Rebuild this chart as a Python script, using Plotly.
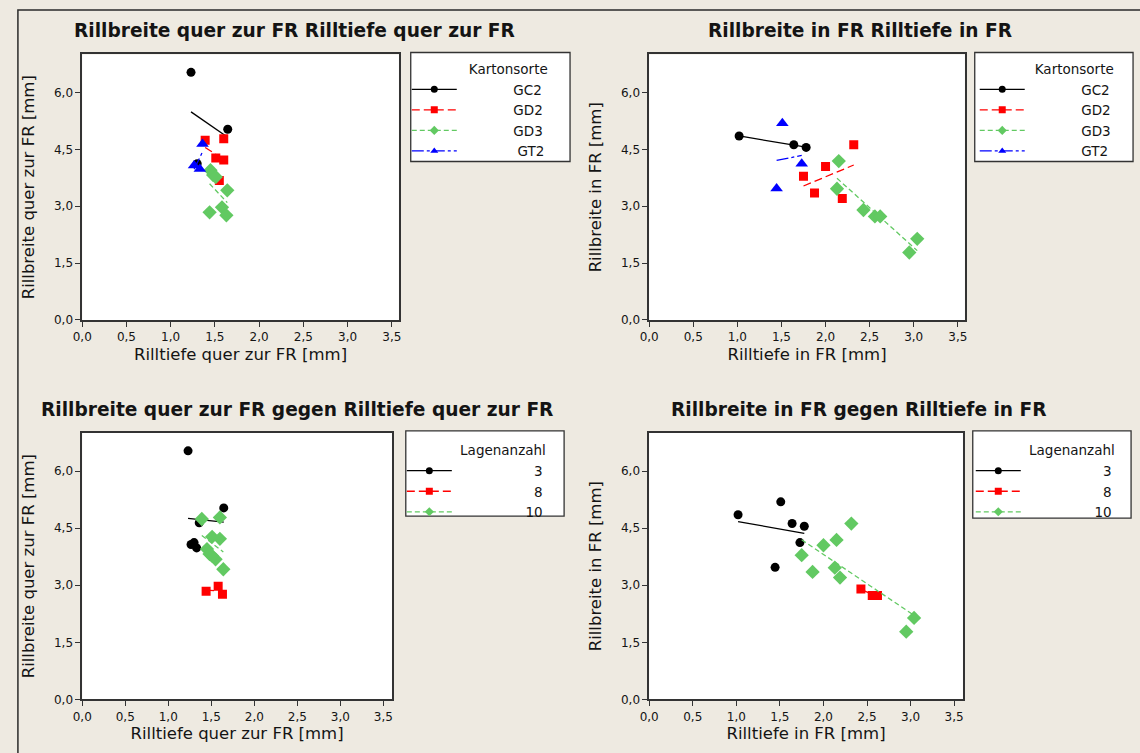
import numpy as np
import plotly.graph_objects as go

# Measurements per sample
kartonsorte = ["GC2"] * 3 + ["GD2"] * 5 + ["GD3"] * 7 + ["GT2"] * 3
lagenanzahl = [3, 3, 3,
               10, 10, 10, 10, 10,
               10, 10, 10, 10, 8, 8, 8,
               3, 3, 3]
rilltiefe_quer = [1.23, 1.645, 1.30,
                  1.39, 1.60, 1.51, 1.60, 1.55,
                  1.45, 1.48, 1.51, 1.64, 1.44, 1.58, 1.63,
                  1.36, 1.265, 1.33]
rillbreite_quer = [6.53, 5.03, 4.12,
                   4.74, 4.78, 4.27, 4.22, 3.68,
                   3.95, 3.82, 3.77, 3.42, 2.84, 2.97, 2.76,
                   4.64, 4.07, 3.98]
rilltiefe_fr = [1.02, 1.64, 1.78,
                1.75, 2.00, 1.875, 2.19, 2.32,
                2.15, 2.13, 2.95, 3.04, 2.43, 2.56, 2.62,
                1.51, 1.73, 1.445]
rillbreite_fr = [4.85, 4.62, 4.55,
                 3.79, 4.05, 3.35, 3.20, 4.62,
                 4.19, 3.46, 1.78, 2.14, 2.90, 2.73, 2.73,
                 5.19, 4.12, 3.47]

sorten = ["GC2", "GD2", "GD3", "GT2"]
lagen = [3, 8, 10]

x_ticks = [0.0, 0.5, 1.0, 1.5, 2.0, 2.5, 3.0, 3.5]
y_ticks = [0.0, 1.5, 3.0, 4.5, 6.0]

GREEN = "#62C962"
style_sorte = {
    "GC2": dict(color="black", symbol="circle", size=9, dash="solid"),
    "GD2": dict(color="#FF0000", symbol="square", size=9, dash="8px,4px"),
    "GD3": dict(color=GREEN, symbol="diamond", size=11, dash="5px,3px"),
    "GT2": dict(color="#0000FF", symbol="triangle-up", size=11, dash="12px,3px,3px,3px"),
}
style_lagen = {
    3: style_sorte["GC2"],
    8: style_sorte["GD2"],
    10: style_sorte["GD3"],
}

W, H = 1140, 753
BG = "#EEEAE1"
FONT = "DejaVu Sans"
TXT = "#141414"
LEG_SIZE = 13.5

# approximate DejaVu Sans advance widths (em) for right-aligning legend labels
GLYPH_EM = {"G": 0.775, "C": 0.698, "D": 0.770, "T": 0.611,
            "0": 0.636, "1": 0.636, "2": 0.636, "3": 0.636, "8": 0.636}
NBSP_EM = 0.318


def px_x(p):
    return p / W


def px_y(p):
    return 1 - p / H


def right_aligned(label, width_px):
    text_w = sum(GLYPH_EM.get(c, 0.62) for c in label) * LEG_SIZE
    n = max(0, int(round((width_px - text_w) / (NBSP_EM * LEG_SIZE))))
    return "\u00a0" * n + label


fig = go.Figure()

panels = [
    # (axis suffix, x values, y values, group key, groups, styles, legend, x domain px, y domain px, xmax, label width)
    ("", rilltiefe_quer, rillbreite_quer, kartonsorte, sorten, style_sorte, "legend",
     (73, 393), (55, 323), 3.58, 82),
    ("2", rilltiefe_fr, rillbreite_fr, kartonsorte, sorten, style_sorte, "legend2",
     (646, 965), (55, 323), 3.58, 80),
    ("3", rilltiefe_quer, rillbreite_quer, lagenanzahl, lagen, style_lagen, "legend3",
     (73, 386), (437, 706), 3.6, 84),
    ("4", rilltiefe_fr, rillbreite_fr, lagenanzahl, lagen, style_lagen, "legend4",
     (646, 963), (437, 706), 3.6, 84),
]

for suffix, xs, ys, keys, groups, styles, leg, dx, dy, xmax, lab_w in panels:
    xa, ya = "x" + suffix, "y" + suffix
    xs = np.array(xs)
    ys = np.array(ys)
    keys = np.array(keys)
    for g in groups:
        st = styles[g]
        m = keys == g
        gx, gy = xs[m], ys[m]
        # Least-squares fit line over the group's x range
        b1, b0 = np.polyfit(gx, gy, 1)
        fx = np.array([gx.min(), gx.max()])
        fig.add_trace(go.Scatter(
            x=fx, y=b0 + b1 * fx, mode="lines", xaxis=xa, yaxis=ya,
            line=dict(color=st["color"], width=1.3, dash=st["dash"]),
            showlegend=False, hoverinfo="skip"))
        fig.add_trace(go.Scatter(
            x=gx, y=gy, mode="markers", xaxis=xa, yaxis=ya,
            marker=dict(color=st["color"], symbol=st["symbol"], size=st["size"]),
            showlegend=False, name=str(g)))
        # Legend key: line with marker
        fig.add_trace(go.Scatter(
            x=[None], y=[None], mode="lines+markers", xaxis=xa, yaxis=ya,
            line=dict(color=st["color"], width=1.3, dash=st["dash"]),
            marker=dict(color=st["color"], symbol=st["symbol"], size=7),
            name=right_aligned(str(g), lab_w), legend=leg, showlegend=True))

    axis_common = dict(
        showline=True, mirror=True, linecolor="#333333", linewidth=1.5,
        ticks="outside", ticklen=5, tickcolor="#333333", tickwidth=1.3,
        showgrid=False, zeroline=False, tickformat=".1f",
        tickfont=dict(family=FONT, size=12, color=TXT),
    )
    fig.layout["xaxis" + suffix] = dict(
        axis_common, domain=[px_x(dx[0]), px_x(dx[1])], range=[0, xmax],
        tickvals=x_ticks, anchor=ya)
    fig.layout["yaxis" + suffix] = dict(
        axis_common, domain=[px_y(dy[1]), px_y(dy[0])], range=[0, 7.0],
        tickvals=y_ticks, anchor=xa)

# Axis titles
AX_FONT = dict(family=FONT, size=16.5, color=TXT)
axis_titles = {
    "xaxis": "Rilltiefe quer zur FR [mm]", "yaxis": "Rillbreite quer zur FR [mm]",
    "xaxis2": "Rilltiefe in FR [mm]", "yaxis2": "Rillbreite in FR [mm]",
    "xaxis3": "Rilltiefe quer zur FR [mm]", "yaxis3": "Rillbreite quer zur FR [mm]",
    "xaxis4": "Rilltiefe in FR [mm]", "yaxis4": "Rillbreite in FR [mm]",
}
for ax, text in axis_titles.items():
    fig.layout[ax].title = dict(text=text, font=AX_FONT,
                                standoff=5 if ax.startswith("x") else 15)

# Panel titles, centred over each half of the page
titles = [
    ("Rillbreite quer zur FR Rilltiefe quer zur FR", 288, 31),
    ("Rillbreite in FR Rilltiefe in FR", 859, 31),
    ("Rillbreite quer zur FR gegen Rilltiefe quer zur FR", 290, 413),
    ("Rillbreite in FR gegen Rilltiefe in FR", 858, 413),
]
for text, cx, cy in titles:
    fig.add_annotation(text="<b>%s</b>" % text, x=px_x(cx), y=px_y(cy), xref="paper", yref="paper",
                       xanchor="center", yanchor="middle", showarrow=False,
                       font=dict(family=FONT, size=18.6, color=TXT))

# Legend frames
legend_boxes = [(405, 566, 53, 163), (975, 1135, 53, 163),
                (400, 560, 435, 521), (973, 1133, 435, 523)]
for x0, x1, y0, y1 in legend_boxes:
    fig.add_shape(type="rect", xref="paper", yref="paper",
                  x0=px_x(x0), x1=px_x(x1), y0=px_y(y1), y1=px_y(y0),
                  line=dict(color="#333333", width=1.3), fillcolor="white", layer="below")

legend_common = dict(
    bgcolor="rgba(0,0,0,0)", borderwidth=0,
    font=dict(family=FONT, size=LEG_SIZE, color=TXT),
    xanchor="left", yanchor="top", itemwidth=45, tracegroupgap=2,
)
title_font = dict(family=FONT, size=13.5, color=TXT)
fig.update_layout(
    legend=dict(legend_common, x=px_x(401), y=px_y(57),
                title=dict(text="Kartonsorte", side="top right", font=title_font)),
    legend2=dict(legend_common, x=px_x(975), y=px_y(57),
                 title=dict(text="Kartonsorte", side="top right", font=title_font)),
    legend3=dict(legend_common, x=px_x(396), y=px_y(442),
                 title=dict(text="Lagenanzahl", side="top right", font=title_font)),
    legend4=dict(legend_common, x=px_x(971), y=px_y(442),
                 title=dict(text="Lagenanzahl", side="top right", font=title_font)),
)

# Outer frame
fig.add_shape(type="rect", xref="paper", yref="paper",
              x0=px_x(8), x1=px_x(1150), y0=px_y(762), y1=px_y(10),
              line=dict(color="#2a2a2a", width=1.5), layer="below")

fig.update_layout(
    width=W, height=H, margin=dict(l=0, r=0, t=0, b=0),
    paper_bgcolor=BG, plot_bgcolor="white", separators=",.",
    font=dict(family=FONT, color=TXT),
)

fig.write_html("out.html")
